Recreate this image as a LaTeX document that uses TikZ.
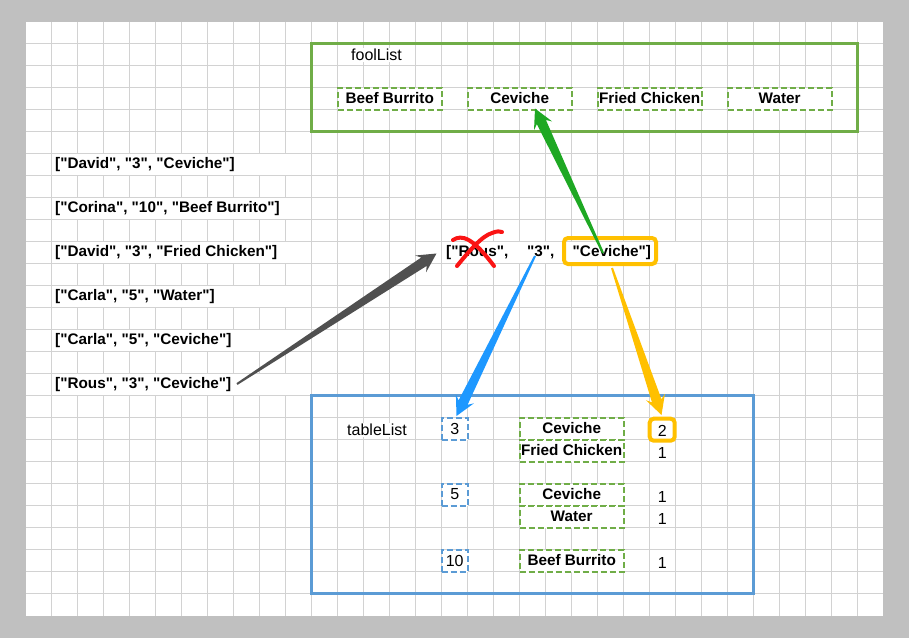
\documentclass[tikz,border=0pt]{standalone}
\usepackage{fontspec}
\setmainfont{Liberation Sans}
\newfontfamily\lsans{Liberation Sans}
\usetikzlibrary{calc}
\definecolor{bggray}{RGB}{192,192,192}
\definecolor{gridc}{RGB}{210,210,210}
\definecolor{boxgreen}{RGB}{112,173,71}
\definecolor{boxblue}{RGB}{91,155,213}
\definecolor{orng}{RGB}{255,192,0}
\definecolor{agreen}{RGB}{30,168,35}
\definecolor{ablue}{RGB}{30,152,255}
\definecolor{agray}{RGB}{80,80,80}
\definecolor{xred}{RGB}{250,20,20}
\tikzset{
  lbl/.style={font=\lsans\fontsize{15.3}{18}\selectfont\bfseries, inner sep=0pt},
  plain/.style={font=\lsans\fontsize{16}{19}\selectfont, inner sep=0pt},
  cell/.style={minimum width=104pt, minimum height=22pt},
  gbox/.style={draw=boxgreen, line width=2pt, dash pattern=on 6pt off 3pt, fill=white},
  bbox/.style={draw=boxblue, line width=2pt, dash pattern=on 6pt off 3pt, fill=white, minimum width=26pt, minimum height=22pt},
  obox/.style={draw=orng, line width=4pt, rounded corners=4pt},
  gridline/.style={draw=gridc, line width=1pt},
}
\newcommand\taperarrow[3]{%
  \path ($(#3)!19pt!(#2)$) coordinate (tb);
  \path ($(#3)!15pt!(#2)$) coordinate (tj);
  \fill[#1] ($(#2)!1pt!90:(#3)$) -- ($(tj)!5pt!90:(#3)$) -- ($(tb)!10pt!90:(#3)$)
    -- (#3) -- ($(tb)!10pt!-90:(#3)$) -- ($(tj)!5pt!-90:(#3)$) -- ($(#2)!1pt!-90:(#3)$) -- cycle;
}
\begin{document}
\begin{tikzpicture}[x=1pt,y=-1pt]
\useasboundingbox (0,0) rectangle (909,638);
\fill[bggray] (0,0) rectangle (909,638);
\fill[white] (26,22) rectangle (883,616);
\foreach \k in {1,...,32} \draw[gridline] ({25.7+26*\k},22) -- ({25.7+26*\k},616);
\foreach \k in {1,...,26} \draw[gridline] (26,{21.5+22*\k}) -- (883,{21.5+22*\k});
% white rows behind text
\foreach \k in {6,8,10,12,14,16} \fill[white] (51.7,{21.5+22*\k+0.6}) rectangle (311.2,{21.5+22*\k+21.4});
\fill[white] (441.7,242.1) rectangle (675.7,262.9);

% foolList container
\draw[boxgreen, line width=3pt] (311.7,43.5) rectangle (857.7,131.5);
\node[plain, fill=white, inner sep=1pt] (fooltitle) at (376.5,55) {foolList};
\node[gbox, lbl, cell] (fbeef) at (389.7,98.5) {Beef Burrito};
\node[gbox, lbl, cell] (fcev) at (519.7,98.5) {Ceviche};
\node[gbox, lbl, cell] (ffried) at (649.7,98.5) {Fried Chicken};
\node[gbox, lbl, cell] (fwater) at (779.7,98.5) {Water};

% left list
\node[lbl, anchor=west] (l1) at (55,164.5) {["David", "3", "Ceviche"]};
\node[lbl, anchor=west] (l2) at (55,208.5) {["Corina", "10", "Beef Burrito"]};
\node[lbl, anchor=west] (l3) at (55,252.5) {["David", "3", "Fried Chicken"]};
\node[lbl, anchor=west] (l4) at (55,296.5) {["Carla", "5", "Water"]};
\node[lbl, anchor=west] (l5) at (55,340.5) {["Carla", "5", "Ceviche"]};
\node[lbl, anchor=west] (l6) at (55,384.5) {["Rous", "3", "Ceviche"]};

% middle row
\node[lbl, anchor=west] (mname) at (446,252.5) {["Rous",};
\node[lbl, anchor=west] (mnum) at (527,252.5) {"3",};
\node[lbl, anchor=west] (mdish) at (572.5,252.5) {"Ceviche"]};
\node[obox, minimum width=92pt, minimum height=26pt] (mbox) at (610,251) {};

% tableList container
\draw[boxblue, line width=3pt] (311.7,395.5) rectangle (753.7,593.5);
\node[plain, fill=white, inner sep=1pt] (tabletitle) at (377,430) {tableList};
\node[bbox, plain] (t3) at (454.7,428.5) {3};
\node[bbox, plain] (t5) at (454.7,494.5) {5};
\node[bbox, plain] (t10) at (454.7,560.5) {10};
\node[gbox, lbl, cell] (tc1) at (571.7,428.5) {Ceviche};
\node[gbox, lbl, cell] (tf1) at (571.7,450.5) {Fried Chicken};
\node[gbox, lbl, cell] (tc2) at (571.7,494.5) {Ceviche};
\node[gbox, lbl, cell] (tw2) at (571.7,516.5) {Water};
\node[gbox, lbl, cell] (tb3) at (571.7,560.5) {Beef Burrito};
\node[plain] (n1) at (662.3,430.5) {2};
\node[obox, minimum width=25pt, minimum height=22pt] (n1box) at (662.2,429.7) {};
\node[plain] (n2) at (662.3,452.5) {1};
\node[plain] (n3) at (662.3,496.5) {1};
\node[plain] (n4) at (662.3,518.5) {1};
\node[plain] (n5) at (662.3,562.5) {1};

% arrow end points
\coordinate (gs) at (237,384);
\coordinate (gt) at (436.5,253.5);
\coordinate (grs) at (603,253);
\coordinate (grt) at (535,108.5);
\coordinate (bs) at (535,256);
\coordinate (bt) at (456.5,416);
\coordinate (os) at (612,268);
\coordinate (ot) at (661.5,415);
\taperarrow{agray}{gs}{gt}
\taperarrow{agreen}{grs}{grt}
\taperarrow{ablue}{bs}{bt}
\taperarrow{orng}{os}{ot}

% red cross
\draw[xred, line width=4pt, line cap=round] (453,240) .. controls (462,234) and (473,238) .. (494,266);
\draw[xred, line width=4pt, line cap=round] (457,266) .. controls (470,250) and (482,236) .. (492,233) .. controls (497,231) and (500,231) .. (502,232);
\end{tikzpicture}
\end{document}
